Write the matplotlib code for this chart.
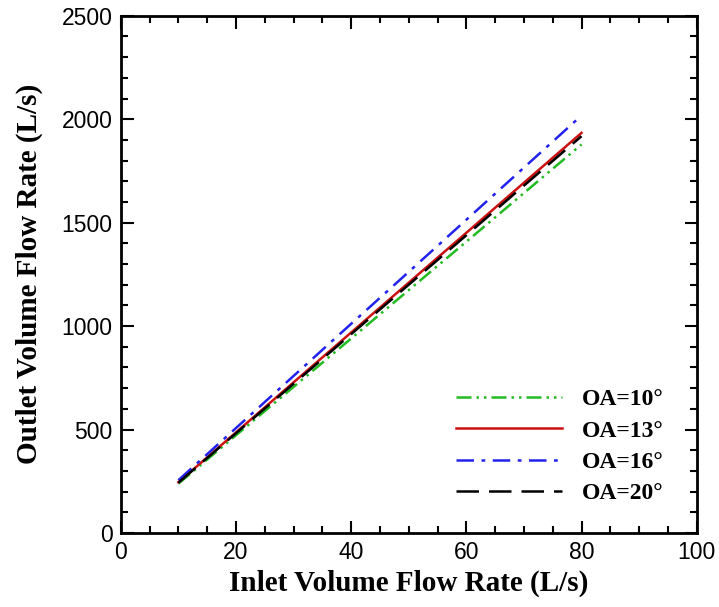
import matplotlib.pyplot as plt
from matplotlib.ticker import MultipleLocator

inlet = [10, 20, 30, 40, 50, 60, 70, 80]
oa10 = [238, 472, 706, 940, 1174, 1408, 1643, 1878]
oa13 = [245, 486, 728, 969, 1210, 1451, 1693, 1934]
oa16 = [255, 507, 759, 1011, 1262, 1514, 1766, 2018]
oa20 = [243, 482, 721, 961, 1200, 1439, 1679, 1918]

series = [
    ('OA=10°', oa10, '#22bb22', (0, (6, 2, 1, 2, 1, 2))),
    ('OA=13°', oa13, '#cc1111', '-'),
    ('OA=16°', oa16, '#2222ee', (0, (7, 3, 1.5, 3))),
    ('OA=20°', oa20, 'black', (0, (9, 4))),
]

fig = plt.figure(figsize=(7.19, 6.07), dpi=100)
ax = fig.add_axes([0.168, 0.122, 0.801, 0.852])

for label, ys, color, ls in series:
    ax.plot(inlet, ys, color=color, linestyle=ls, linewidth=1.8, label=label)

ax.set_xlim(0, 100)
ax.set_ylim(0, 2500)
ax.xaxis.set_major_locator(MultipleLocator(20))
ax.xaxis.set_minor_locator(MultipleLocator(5))
ax.yaxis.set_major_locator(MultipleLocator(500))
ax.yaxis.set_minor_locator(MultipleLocator(100))
ax.tick_params(which='both', direction='in', top=True, right=True, width=1.5)
ax.tick_params(which='major', length=9, labelsize=16.5, pad=6)
ax.tick_params(which='minor', length=5)
for lab in ax.get_xticklabels() + ax.get_yticklabels():
    lab.set_family('Liberation Sans')
for sp in ax.spines.values():
    sp.set_linewidth(2)

lab_font = dict(family='Liberation Serif', weight='bold', size=21)
ax.set_xlabel('Inlet Volume Flow Rate (L/s)', labelpad=4, **lab_font)
ax.set_ylabel('Outlet Volume Flow Rate (L/s)', labelpad=13, **lab_font)

ax.legend(loc='lower right', frameon=False, handlelength=4.5, handletextpad=0.85,
          labelspacing=0.42, bbox_to_anchor=(0.98, 0.014),
          prop=dict(family='Liberation Serif', weight='bold', size=17))

plt.savefig('out.png', dpi=100)
